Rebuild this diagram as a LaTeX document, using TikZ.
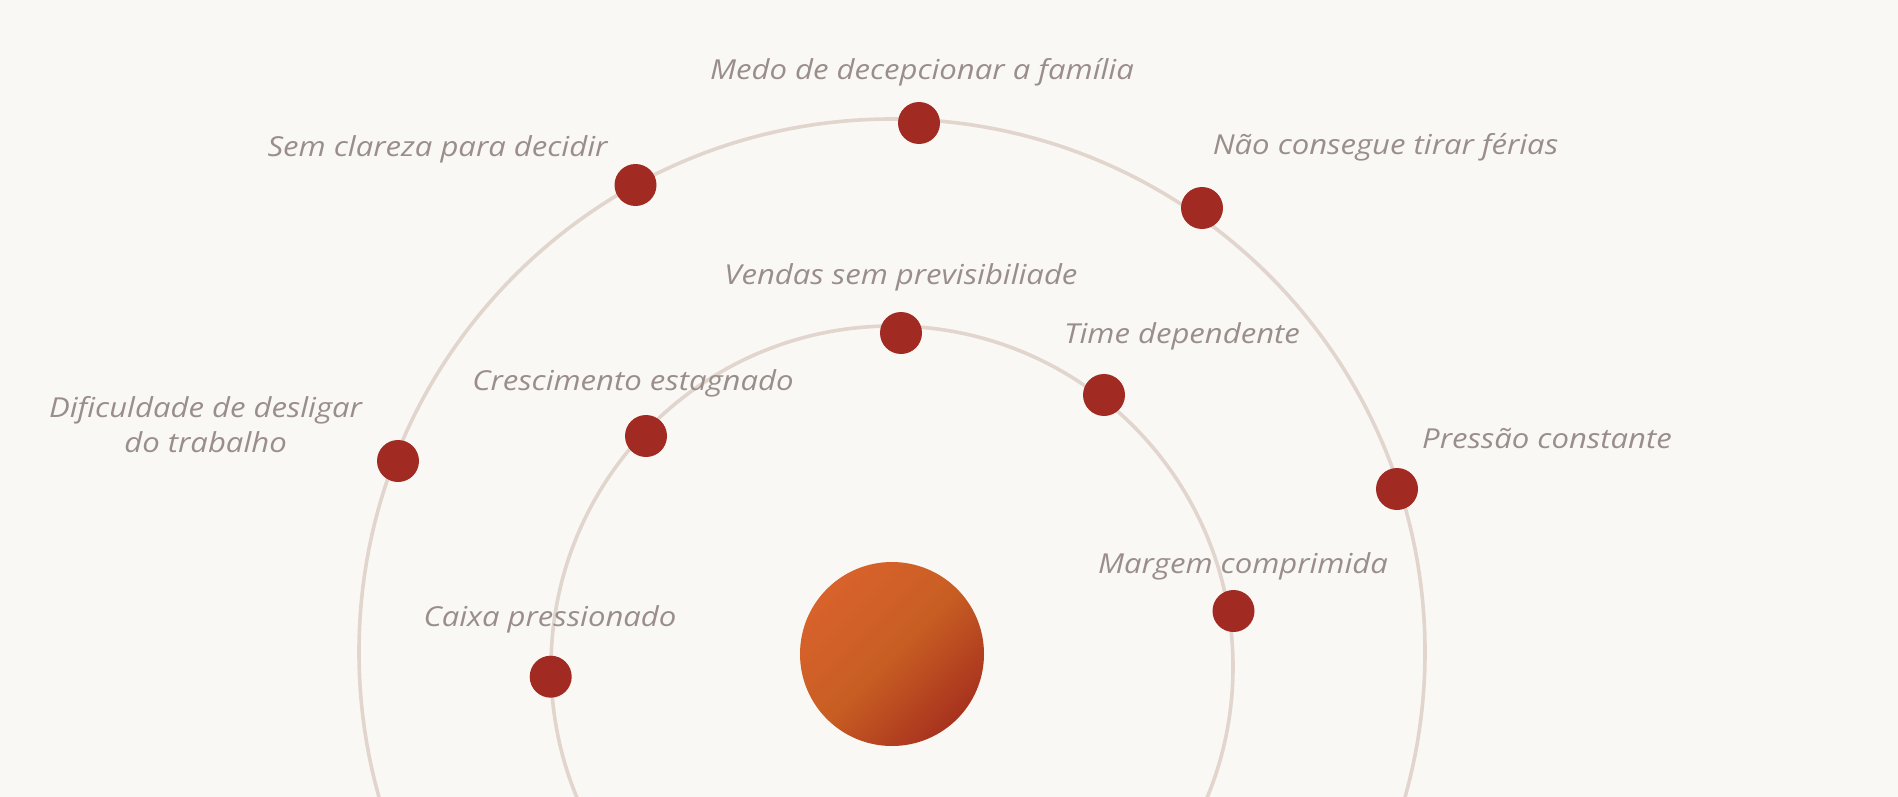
\documentclass[tikz,border=0pt]{standalone}
\usepackage{fontspec}
\setmainfont{Open Sans}[FakeStretch=1.13]
\definecolor{bgc}{HTML}{FAF8F5}
\definecolor{ringc}{HTML}{E1D5CE}
\definecolor{dotc}{HTML}{A12A22}
\definecolor{txtc}{HTML}{9A8E8B}
\definecolor{sunA}{HTML}{D8622B}
\definecolor{sunB}{HTML}{C85E23}
\definecolor{sunC}{HTML}{A8321E}
\tikzset{
  ring/.style={draw=ringc, line width=3.6pt},
  pain/.style={circle, fill=dotc, inner sep=0pt, minimum size=42pt},
  lbl/.style={text=txtc, anchor=base, inner sep=0pt, font=\fontsize{27.5}{35}\selectfont\itshape},
}
\begin{document}
\begin{tikzpicture}[x=1pt,y=-1pt]
\useasboundingbox (0,0) rectangle (1898,797);
\fill[bgc] (0,0) rectangle (1898,797);
\begin{scope}
\clip (0,0) rectangle (1898,797);
\draw[ring] (892,652) circle[radius=533];
\draw[ring] (892,667) circle[radius=341];
\end{scope}
\shade[top color=sunA, bottom color=sunC, middle color=sunB, shading angle=45] (892,654) circle[radius=92];
\node[pain] (d1) at (919,123) {};
\node[pain] (d2) at (635.5,185) {};
\node[pain] (d3) at (1202,208) {};
\node[pain] (d4) at (398,461) {};
\node[pain] (d5) at (1397,489) {};
\node[pain] (d6) at (901,333) {};
\node[pain] (d7) at (1104,395) {};
\node[pain] (d8) at (646,436) {};
\node[pain] (d9) at (1233.5,611) {};
\node[pain] (d10) at (550.7,676.7) {};
\node[lbl] (l1) at (922,80) {Medo de decepcionar a família};
\node[lbl] (l2) at (437.5,157) {Sem clareza para decidir};
\node[lbl] (l3) at (1385.5,154) {Não consegue tirar férias};
\node[lbl, align=center] (l4) at (205.6,452) {Dificuldade de desligar\\do trabalho};
\node[lbl] (l5) at (1547,448) {Pressão constante};
\node[lbl] (l6) at (901,284) {Vendas sem previsibiliade};
\node[lbl] (l7) at (1182,343) {Time dependente};
\node[lbl] (l8) at (633,390) {Crescimento estagnado};
\node[lbl] (l9) at (1243,573) {Margem comprimida};
\node[lbl] (l10) at (550,626) {Caixa pressionado};
\end{tikzpicture}
\end{document}
